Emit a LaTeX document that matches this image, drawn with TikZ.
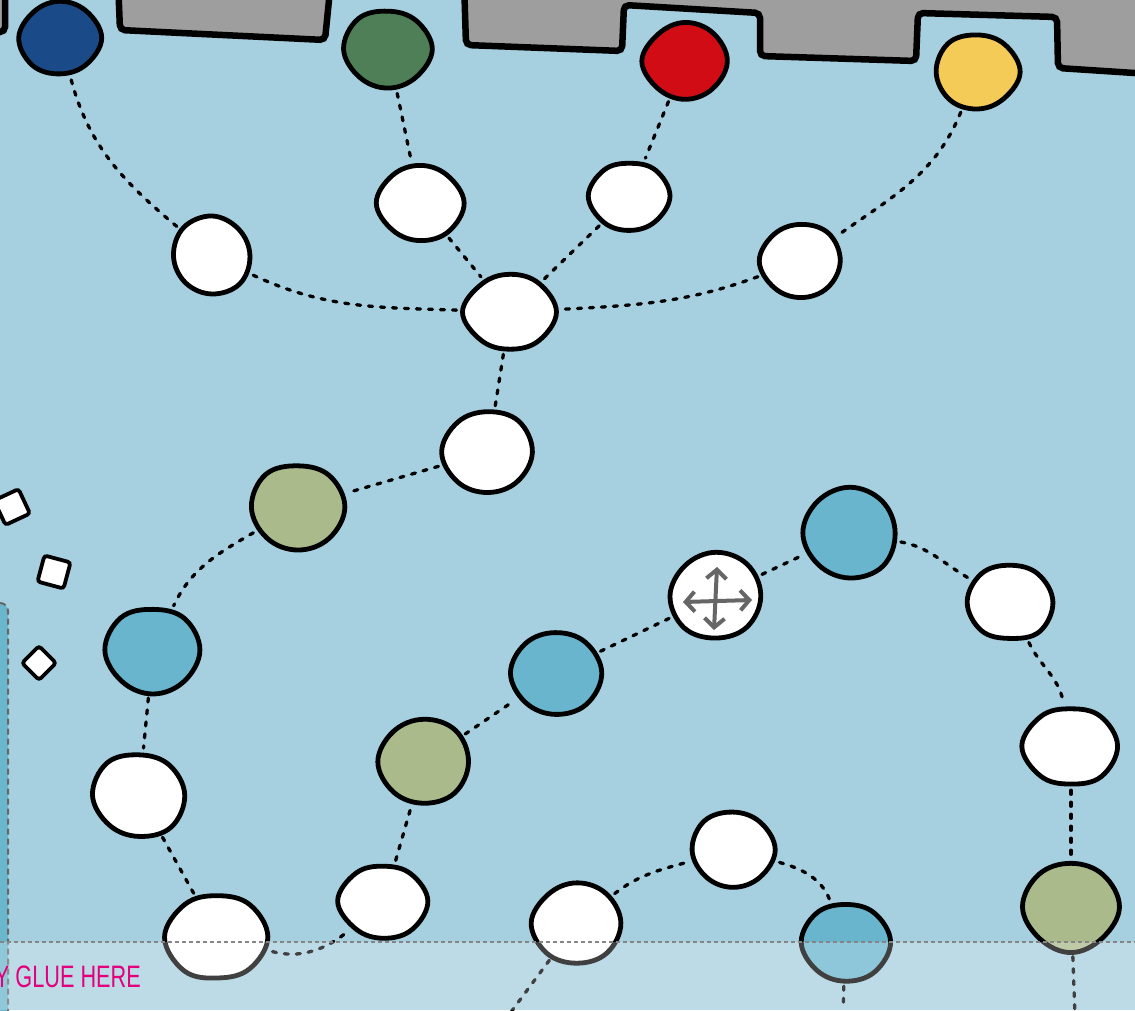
\documentclass[tikz,border=0pt]{standalone}
\usepackage{fontspec}
\setmainfont{Liberation Sans}
\usetikzlibrary{shapes.geometric,arrows.meta,calc}
\definecolor{bgC}{HTML}{A6D0E0}
\definecolor{grayC}{HTML}{9E9E9E}
\definecolor{blueC}{HTML}{1A4A87}
\definecolor{greenC}{HTML}{4F7F56}
\definecolor{redC}{HTML}{D20C14}
\definecolor{yellowC}{HTML}{F4CB56}
\definecolor{oliveC}{HTML}{AABA8A}
\definecolor{tealC}{HTML}{68B5CD}
\definecolor{stripC}{HTML}{6AB6CD}
\definecolor{glueC}{HTML}{E4007C}
\definecolor{iconC}{HTML}{666666}
\begin{document}
\begin{tikzpicture}[x=1pt,y=1pt,
  spot/.style={ellipse, inner sep=0pt},
  sz/.style 2 args={minimum width=#1pt-4pt, minimum height=#2pt-4pt},
  blobline/.style={draw=black, line width=4.8pt, line join=round},
  conn/.style={draw=black, line width=3.3pt, dash pattern=on 4pt off 8pt, line cap=round, shorten <=6pt, shorten >=6pt},
  paper/.style={fill=grayC, draw=black, line width=6.5pt, rounded corners=5pt},
  chip/.style={draw=black, fill=white, line width=3.8pt, rounded corners=3pt, inner sep=0pt},
  icon/.style={draw=iconC, line width=4pt, line cap=round, {Straight Barb[length=9pt,width=20pt]}-{Straight Barb[length=9pt,width=20pt]}}
]
\useasboundingbox (0,0) rectangle (1135,-1010);
\clip (0,0) rectangle (1135,-1010);
\fill[bgC] (0,0) rectangle (1135,-1010);

% paper edge at the top
\path[paper] (-20,20) -- (5,20) -- (5,-32) -- (-20,-32) -- cycle;
\path[paper] (118,20) -- (120,-30) -- (325,-40) -- (331,20) -- cycle;
\path[paper] (464,20) -- (466,-45) -- (622,-51) -- (624,-5) -- (760,-13) -- (760,-56)
  -- (916,-61) -- (918,-13) -- (1057,-17) -- (1058,-68) -- (1150,-74) -- (1150,20) -- cycle;

% left strip
\fill[stripC, rounded corners=8pt] (-20,-603) -- (8,-603) -- (8,-1030) -- (-20,-1030) -- cycle;
\draw[iconC, line width=2pt, dash pattern=on 6pt off 4pt, rounded corners=8pt] (-20,-603) -- (8,-603) -- (8,-1030);

% small chips
\node[chip, minimum size=27pt, rotate=25] (sq1) at (12,-507) {};
\node[chip, minimum size=27pt, rotate=-15] (sq2) at (54,-572) {};
\node[chip, minimum size=24pt, rotate=45] (sq3) at (39,-663) {};

% nodes (spots of the path)
\node[spot, sz={84}{78}] (B1) at (60,-38) {};
\node[spot, sz={90}{82}] (G1) at (388,-49) {};
\node[spot, sz={87}{78}] (R1) at (685,-61) {};
\node[spot, sz={88}{77}] (Y1) at (977,-72) {};
\node[spot, sz={83}{81}] (Wa) at (212,-256) {};
\node[spot, sz={91}{78}] (Wb) at (420,-203) {};
\node[spot, sz={84}{72}] (Wc) at (630,-196) {};
\node[spot, sz={85}{74}] (Wd) at (801,-261) {};
\node[spot, sz={95}{77}] (Hub) at (510,-312) {};
\node[spot, sz={96}{84}] (We) at (488,-452) {};
\node[spot, sz={98}{87}] (O1) at (298,-507) {};
\node[spot, sz={96}{88}] (T1) at (153,-650) {};
\node[spot, sz={98}{86}] (Wf) at (139,-795) {};
\node[spot, sz={106}{88}] (Wg) at (218,-937) {};
\node[spot, sz={95}{75}] (Wh) at (384,-901) {};
\node[spot, sz={93}{88}] (O2) at (424,-762) {};
\node[spot, sz={94}{87}] (T2) at (555,-673) {};
\node[spot, sz={94}{90}] (M) at (716,-596) {};
\node[spot, sz={95}{92}] (T3) at (850,-533) {};
\node[spot, sz={92}{79}] (Wi) at (1010,-602) {};
\node[spot, sz={100}{80}] (Wj) at (1071,-746) {};
\node[spot, sz={98}{91}] (O3) at (1071,-907) {};
\node[spot, sz={89}{77}] (Wk) at (733,-850) {};
\node[spot, sz={92}{81}] (Wl) at (577,-923) {};
\node[spot, sz={92}{80}] (T4) at (845,-942) {};
\coordinate (e1) at (1075,-1016);
\coordinate (e2) at (508,-1016);
\coordinate (e3) at (843,-1016);

% connectors
\draw[conn] (B1) to[out=-75,in=140] (Wa);
\draw[conn] (G1) -- (Wb);
\draw[conn] (Wb) -- (Hub);
\draw[conn] (R1) -- (Wc);
\draw[conn] (Wc) -- (Hub);
\draw[conn] (Y1) to[out=-112,in=35] (Wd);
\draw[conn] (Wa) to[out=-25,in=178] (Hub);
\draw[conn] (Wd) to[out=200,in=3] (Hub);
\draw[conn] (Hub) -- (We);
\draw[conn] (We) -- (O1);
\draw[conn] (O1) to[out=210,in=65] (T1);
\draw[conn] (T1) -- (Wf);
\draw[conn] (Wf) -- (Wg);
\draw[conn] (Wg) to[out=-15,in=-140] (Wh);
\draw[conn] (Wh) -- (O2);
\draw[conn] (O2) -- (T2);
\draw[conn] (T2) -- (M);
\draw[conn] (M) -- (T3);
\draw[conn] (T3) to[out=-10,in=150] (Wi);
\draw[conn] (Wi) to[out=-65,in=100] (Wj);
\draw[conn] (Wj) -- (O3);
\draw[conn] (O3) -- (e1);
\draw[conn] (Wl) to[out=38,in=195] (Wk);
\draw[conn] (Wk) to[out=-15,in=110] (T4);
\draw[conn] (Wl) -- (e2);
\draw[conn] (T4) -- (e3);

% hand-drawn spots
\pgfmathsetseed{17}
\foreach \n/\c in {B1/blueC,G1/greenC,R1/redC,Y1/yellowC,Wa/white,Wb/white,Wc/white,Wd/white,
  Hub/white,We/white,O1/oliveC,T1/tealC,Wf/white,Wg/white,Wh/white,O2/oliveC,T2/tealC,M/white,
  T3/tealC,Wi/white,Wj/white,O3/oliveC,Wk/white,Wl/white,T4/tealC} {
  \draw[blobline, fill=\c] plot[smooth cycle, tension=0.65] coordinates {
    ($(\n.center)!{1.0+0.045*rand}!(\n.0)$)
    ($(\n.center)!{1.0+0.04*rand}!(\n.45)$)
    ($(\n.center)!{1.0+0.045*rand}!(\n.90)$)
    ($(\n.center)!{1.0+0.04*rand}!(\n.135)$)
    ($(\n.center)!{1.0+0.045*rand}!(\n.180)$)
    ($(\n.center)!{1.0+0.04*rand}!(\n.225)$)
    ($(\n.center)!{1.0+0.045*rand}!(\n.270)$)
    ($(\n.center)!{1.0+0.04*rand}!(\n.315)$)
  };
}

% move icon
\draw[icon] ($(M.center)+(-33,-6)$) -- ($(M.center)+(36,-4)$);
\draw[icon] ($(M.center)+(1,29)$) -- ($(M.center)+(-2,-34)$);

% glue zone
\fill[white, opacity=0.25] (0,-942) rectangle (1135,-1010);
\draw[iconC!80!white, line width=1.2pt, dash pattern=on 4pt off 3pt] (0,-942) -- (1135,-942);
\node[text=glueC, font=\fontsize{31}{31}\selectfont, xscale=0.7, anchor=base east, inner sep=0pt] (glue) at (141,-987) {APPLY GLUE HERE};
\end{tikzpicture}
\end{document}
